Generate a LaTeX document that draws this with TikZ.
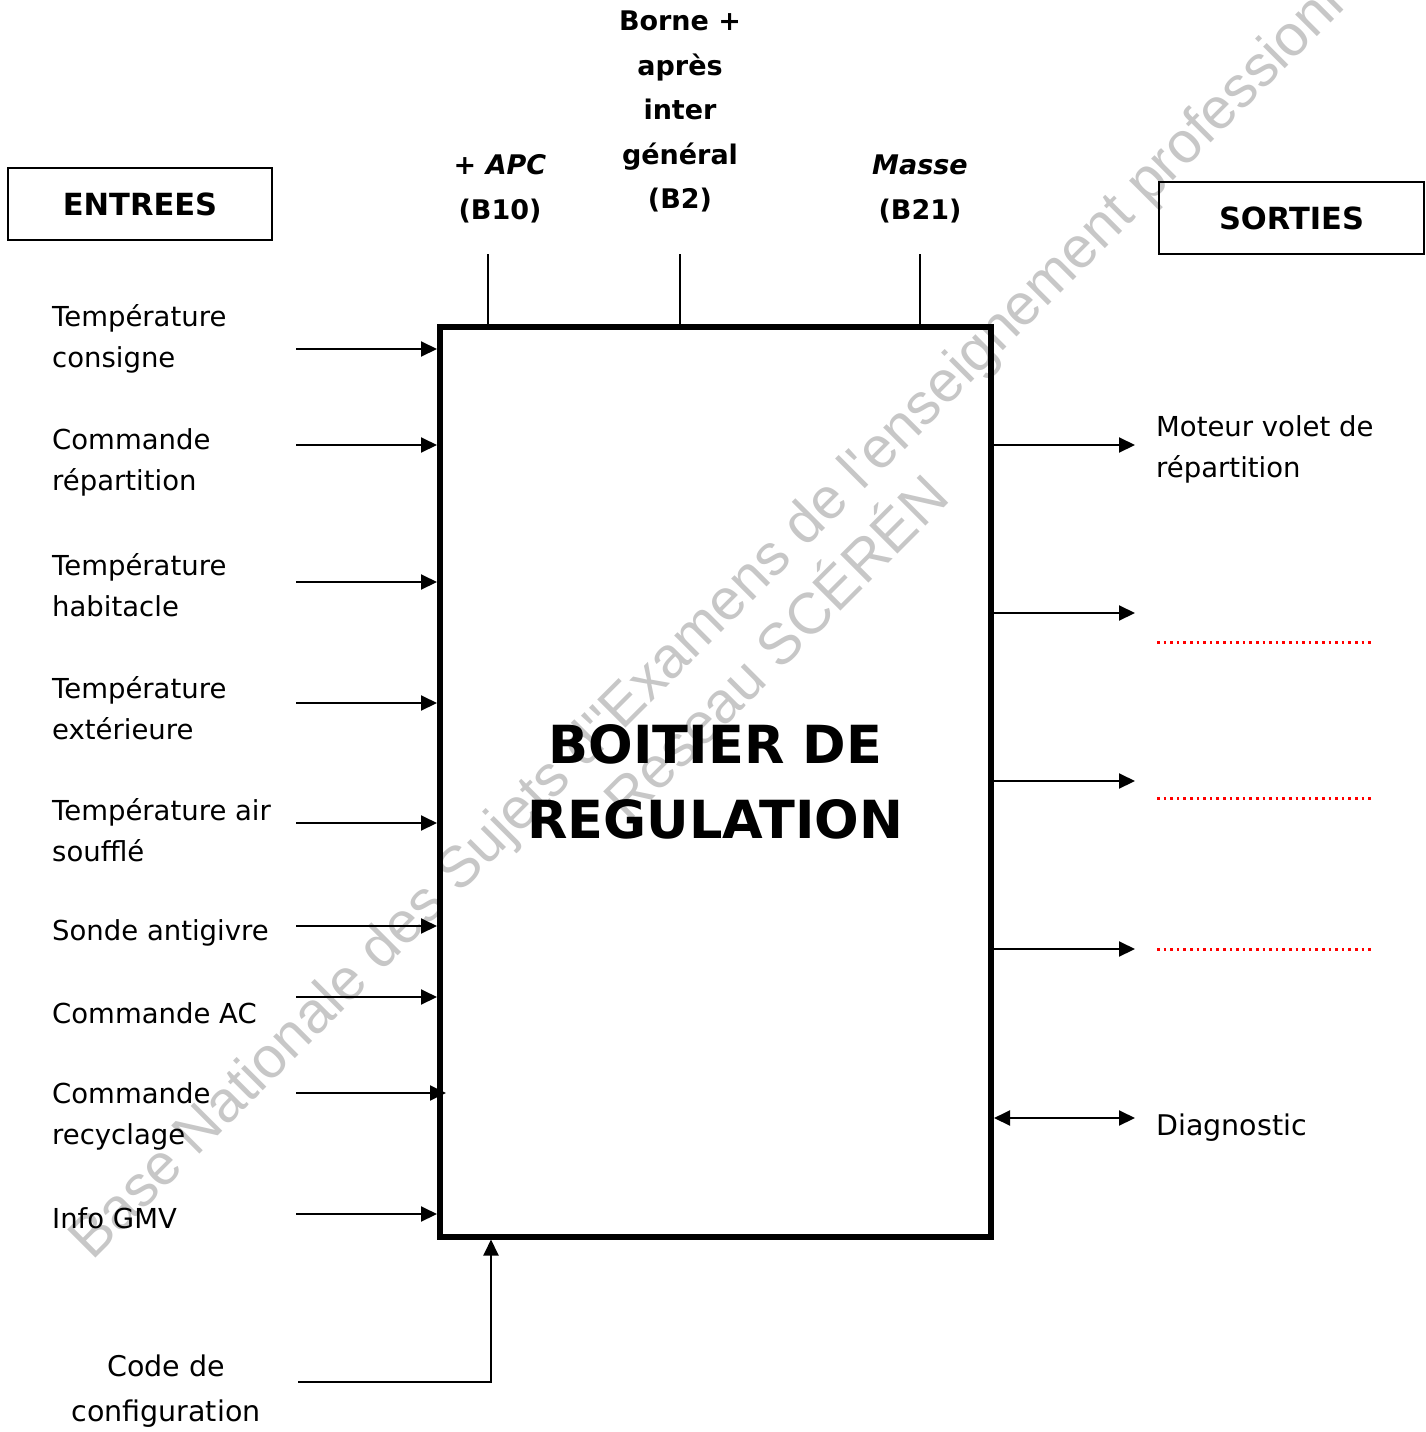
\documentclass[tikz,border=0pt]{standalone}
\usepackage{fontspec}
\setmainfont{DejaVu Sans}
\newfontfamily\wmfont{Liberation Sans}
\usetikzlibrary{arrows.meta}
\begin{document}
\begin{tikzpicture}[x=1pt,y=-1pt,
  lab/.style={font=\fontsize{27.5}{41}\selectfont, align=left, anchor=west, inner sep=0pt},
  toplab/.style={font=\bfseries\fontsize{27}{44.5}\selectfont, align=center, inner sep=0pt},
  headbox/.style={draw, line width=1.5pt, minimum width=264pt, minimum height=72pt, font=\bfseries\fontsize{30.5}{35}\selectfont, inner sep=0pt},
  arr/.style={line width=2pt, -{Triangle[length=16pt,width=15pt]}},
  darr/.style={line width=2pt, {Triangle[length=16pt,width=15pt]}-{Triangle[length=16pt,width=15pt]}},
  pin/.style={line width=1.3pt},
  blank/.style={draw=red, line width=3pt, dash pattern=on 2.6pt off 4pt},
  wm/.style={text=black!22, font=\wmfont\fontsize{58}{60}\selectfont, rotate=45, inner sep=0pt, anchor=base west}]
\useasboundingbox (0,0) rectangle (1426,1432);
\clip (0,0) rectangle (1426,1432);

% watermark
\node[wm] (wm1) at (92,1262) {Base Nationale des Sujets d''Examens de l'enseignement professionnel};
\node[wm] (wm2) at (628,824) {Réseau SCÉRÉN};

% main box
\node[draw, line width=6pt, minimum width=551pt, minimum height=909.5pt, inner sep=0pt,
      font=\bfseries\fontsize{52.5}{75}\selectfont, align=center] (box) at (715.5,781.75)
      {BOITIER DE\\REGULATION};

% headers
\node[headbox] (entrees) at (140,204) {ENTREES};
\node[headbox, minimum width=265pt] (sorties) at (1291.5,218) {SORTIES};

% top supply labels
\node[toplab] (apc) at (500,189) {+ \textit{APC}\\(B10)};
\node[toplab] (borne) at (680,111.5) {Borne +\\après\\inter\\général\\(B2)};
\node[toplab] (masse) at (920,189) {\textit{Masse}\\(B21)};
\coordinate (t1) at (488,254);
\coordinate (t2) at (680,254);
\coordinate (t3) at (920,254);
\draw[pin] (t1) -- (t1 |- box.north);
\draw[pin] (t2) -- (t2 |- box.north);
\draw[pin] (t3) -- (t3 |- box.north);

% inputs
\node[lab] (in1) at (52,339) {Température\\consigne};
\node[lab] (in2) at (52,462) {Commande\\répartition};
\node[lab] (in3) at (52,585) {Température\\habitacle};
\node[lab] (in4) at (52,708) {Température\\extérieure};
\node[lab] (in5) at (52,830) {Température air\\soufflé};
\node[lab] (in6) at (52,933) {Sonde antigivre};
\node[lab] (in7) at (52,1013) {Commande AC};
\node[lab] (in8) at (52,1116) {Commande\\recyclage};
\node[lab] (in9) at (52,1218) {Info GMV};

\coordinate (a1) at (296,349);
\coordinate (a2) at (296,445);
\coordinate (a3) at (296,582);
\coordinate (a4) at (296,703);
\coordinate (a5) at (296,823);
\coordinate (a6) at (296,926);
\coordinate (a7) at (296,997);
\coordinate (a8) at (296,1093);
\coordinate (a9) at (296,1214);
\foreach \i in {1,...,7,9} {\draw[arr] (a\i) -- (a\i -| box.west);}
\coordinate (a8e) at (446,1093);
\draw[arr] (a8) -- (a8e);

% configuration code
\node[font=\fontsize{28.5}{45}\selectfont, align=center, inner sep=0pt] (cfg) at (166,1391) {Code de\\configuration};
\coordinate (c0) at (298,1382);
\coordinate (c1) at (491,1382);
\draw[arr] (c0) -- (c1) -- (c1 |- box.south);

% outputs
\coordinate (o1) at (1135,445);
\coordinate (o2) at (1135,613);
\coordinate (o3) at (1135,781);
\coordinate (o4) at (1135,949);
\coordinate (o5) at (1135,1118);
\foreach \i in {1,...,4} {\draw[arr] (o\i -| box.east) -- (o\i);}
\draw[darr] (o5 -| box.east) -- (o5);

\node[lab] (out1) at (1156,449.5) {Moteur volet de\\répartition};
\node[lab, font=\fontsize{28.5}{41}\selectfont] (out5) at (1156,1128) {Diagnostic};

\coordinate (d2a) at (1157,642);
\coordinate (d2b) at (1371,642);
\coordinate (d3a) at (1157,798);
\coordinate (d3b) at (1371,798);
\coordinate (d4a) at (1157,949);
\coordinate (d4b) at (1371,949);
\draw[blank] (d2a) -- (d2b);
\draw[blank] (d3a) -- (d3b);
\draw[blank] (d4a) -- (d4b);
\end{tikzpicture}
\end{document}
